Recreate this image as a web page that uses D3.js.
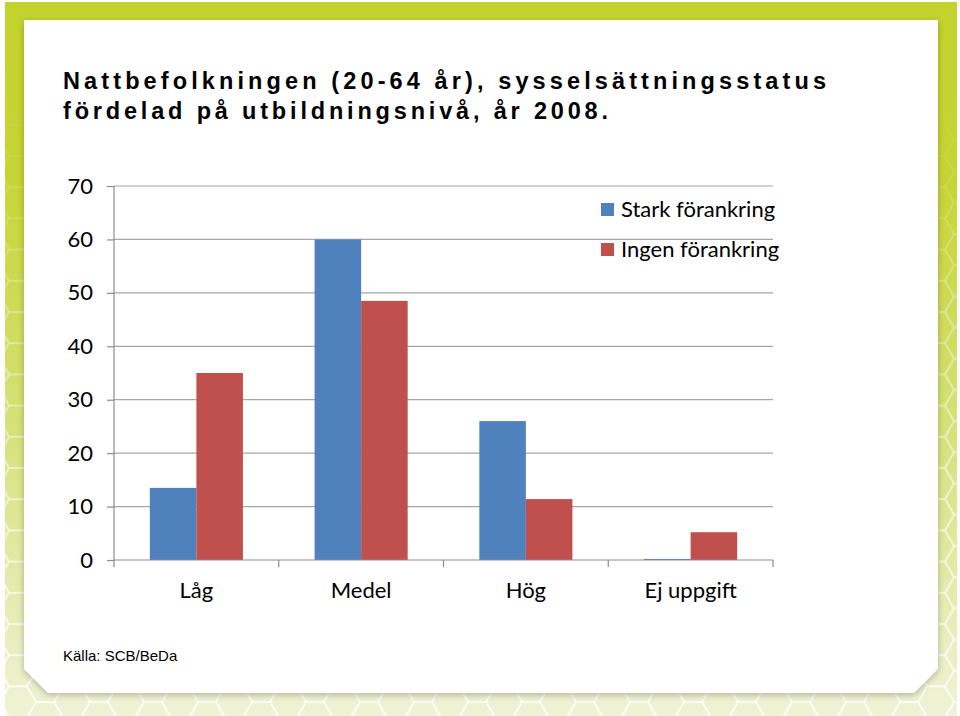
<!DOCTYPE html>
<html>
<head>
<meta charset="utf-8">
<script src="https://cdn.jsdelivr.net/npm/d3@7"></script>
<style>
  html, body { margin: 0; padding: 0; background: #ffffff; }
  svg { display: block; }
</style>
</head>
<body>
<svg id="chart" width="960" height="716"></svg>
<script>
// ---- Data ----
const categories = ["Låg", "Medel", "Hög", "Ej uppgift"];
const seriesNames = ["Stark förankring", "Ingen förankring"];
const starkValues = [13.5, 60.0, 26.0, 0.2];
const ingenValues = [35.0, 48.5, 11.4, 5.2];
const yTicks = [0, 10, 20, 30, 40, 50, 60, 70];
const titleLines = ["Nattbefolkningen (20-64 år), sysselsättningsstatus", "fördelad på utbildningsnivå, år 2008."];
const sourceText = "Källa: SCB/BeDa";
const seriesColors = ["#4f81bd", "#c0504d"];

(function () {
const svg = d3.select("#chart");
const defs = svg.append("defs");

// ---- Background frame ----
const bg = defs.append("linearGradient").attr("id", "bgGrad")
  .attr("x1", 0).attr("y1", 0).attr("x2", 0).attr("y2", 1);
bg.append("stop").attr("offset", "0%").attr("stop-color", "#c3d22c");
bg.append("stop").attr("offset", "25%").attr("stop-color", "#c6d535");
bg.append("stop").attr("offset", "60%").attr("stop-color", "#d6e17a");
bg.append("stop").attr("offset", "100%").attr("stop-color", "#eff3d6");

const hex = defs.append("pattern").attr("id", "hex")
  .attr("patternUnits", "userSpaceOnUse")
  .attr("width", 54).attr("height", 31.2);
const s = 18, h = 15.6;
hex.append("path")
  .attr("d", `M0,${h} L${s/2},0 L${s*1.5},0 L${s*2},${h} L${s*1.5},${2*h} L${s/2},${2*h} Z M${s*2},${h} L${s*3},${h}`)
  .attr("fill", "none").attr("stroke", "#ffffff").attr("stroke-width", 2);

const mg = defs.append("linearGradient").attr("id", "maskGrad")
  .attr("gradientUnits", "userSpaceOnUse")
  .attr("x1", 0).attr("y1", 0).attr("x2", 0).attr("y2", 716);
mg.append("stop").attr("offset", "15%").attr("stop-color", "#000");
mg.append("stop").attr("offset", "45%").attr("stop-color", "#666");
mg.append("stop").attr("offset", "100%").attr("stop-color", "#fff");
defs.append("mask").attr("id", "hexMask")
  .attr("maskUnits", "userSpaceOnUse").attr("x", 0).attr("y", 0).attr("width", 960).attr("height", 716)
  .append("rect").attr("x", 0).attr("y", 0).attr("width", 960).attr("height", 716)
  .attr("fill", "url(#maskGrad)");

svg.append("rect").attr("x", 5).attr("y", 2).attr("width", 952).attr("height", 714)
  .attr("fill", "url(#bgGrad)");
svg.append("rect").attr("x", 5).attr("y", 2).attr("width", 952).attr("height", 714)
  .attr("fill", "url(#hex)").attr("mask", "url(#hexMask)").attr("opacity", 0.85);

// shadow & panel
const shadow = defs.append("filter").attr("id", "shadow")
  .attr("x", "-5%").attr("y", "-5%").attr("width", "110%").attr("height", "115%");
shadow.append("feDropShadow").attr("dx", 0).attr("dy", 2).attr("stdDeviation", 3)
  .attr("flood-color", "#000").attr("flood-opacity", 0.25);

const pL = 24, pT = 20, pR = 938, pB = 693, bev = 24;
svg.append("path")
  .attr("d", `M${pL},${pT} L${pR},${pT} L${pR},${pB - bev} L${pR - bev},${pB} L${pL + bev},${pB} L${pL},${pB - bev} Z`)
  .attr("fill", "#ffffff").attr("filter", "url(#shadow)");

// ---- Title ----
const titleWidths = [763, 545];
svg.selectAll("text.title").data(titleLines).join("text")
  .attr("class", "title")
  .attr("x", 63).attr("y", (d, i) => 89 + i * 30)
  .attr("font-family", "'Liberation Sans', Arial, sans-serif")
  .attr("font-weight", "bold").attr("font-size", 23.5).attr("fill", "#000")
  .attr("textLength", (d, i) => titleWidths[i]).attr("lengthAdjust", "spacing")
  .text(d => d);

// ---- Chart ----
const pxLeft = 114, pxRight = 773, pxTop = 186, pxBottom = 560;
const y = d3.scaleLinear().domain([0, 70]).range([pxBottom, pxTop]);
const x = d3.scaleBand().domain(categories).range([pxLeft, pxRight])
  .paddingInner(0.435).paddingOuter(0.2175);
const xs = d3.scaleBand().domain(seriesNames).range([0, x.bandwidth()]);

const g = svg.append("g");
const labelFont = "Lato, 'Open Sans', sans-serif";

// gridlines
g.selectAll("line.grid").data(yTicks.filter(t => t > 0)).join("line")
  .attr("class", "grid")
  .attr("x1", pxLeft).attr("x2", pxRight)
  .attr("y1", d => y(d)).attr("y2", d => y(d))
  .attr("stroke", "#a6a6a6").attr("stroke-width", 1.2);

// bars
const data = categories.map((c, i) => ({ cat: c, vals: [starkValues[i], ingenValues[i]] }));
const groups = g.selectAll("g.cat").data(data).join("g")
  .attr("class", "cat")
  .attr("transform", d => `translate(${x(d.cat)},0)`);
groups.selectAll("rect").data(d => d.vals.map((v, j) => ({ v, s: seriesNames[j], j })))
  .join("rect")
  .attr("x", d => xs(d.s)).attr("width", xs.bandwidth())
  .attr("y", d => y(d.v)).attr("height", d => y(0) - y(d.v))
  .attr("fill", d => seriesColors[d.j]);

// y axis
const yAxis = d3.axisLeft(y).tickValues(yTicks).tickSize(7).tickPadding(14);
const yg = g.append("g").attr("transform", `translate(${pxLeft},0)`).call(yAxis);
yg.select(".domain").attr("stroke", "#8c8c8c").attr("stroke-width", 1.2).attr("d", `M0,${pxTop}V${pxBottom}`);
yg.selectAll(".tick line").attr("stroke", "#8c8c8c").attr("stroke-width", 1.2);
yg.selectAll(".tick text").attr("font-family", labelFont)
  .attr("font-size", 22).attr("fill", "#000");

// x axis
const boundaries = d3.range(categories.length + 1).map(i => pxLeft + i * x.step());
const xg = g.append("g");
xg.append("line").attr("x1", pxLeft).attr("x2", pxRight).attr("y1", pxBottom).attr("y2", pxBottom)
  .attr("stroke", "#8c8c8c").attr("stroke-width", 1.2);
xg.selectAll("line.tk").data(boundaries).join("line")
  .attr("class", "tk")
  .attr("x1", d => d).attr("x2", d => d).attr("y1", pxBottom).attr("y2", pxBottom + 7)
  .attr("stroke", "#8c8c8c").attr("stroke-width", 1.2);
xg.selectAll("text").data(categories).join("text")
  .attr("x", d => x(d) + x.bandwidth() / 2).attr("y", 598)
  .attr("text-anchor", "middle")
  .attr("font-family", labelFont).attr("font-size", 22).attr("fill", "#000")
  .text(d => d);

// legend
const legend = g.append("g").attr("transform", "translate(601,203)");
const li = legend.selectAll("g").data(seriesNames).join("g")
  .attr("transform", (d, i) => `translate(0,${i * 40})`);
li.append("rect").attr("width", 13).attr("height", 13).attr("fill", (d, i) => seriesColors[i]);
li.append("text").attr("x", 20).attr("y", 14)
  .attr("font-family", labelFont).attr("font-size", 22).attr("fill", "#000")
  .text(d => d);

// source
svg.append("text").attr("x", 63).attr("y", 661)
  .attr("font-family", "'Liberation Sans', Arial, sans-serif").attr("font-size", 15).attr("fill", "#000")
  .text(sourceText);
})();
</script>
</body>
</html>
